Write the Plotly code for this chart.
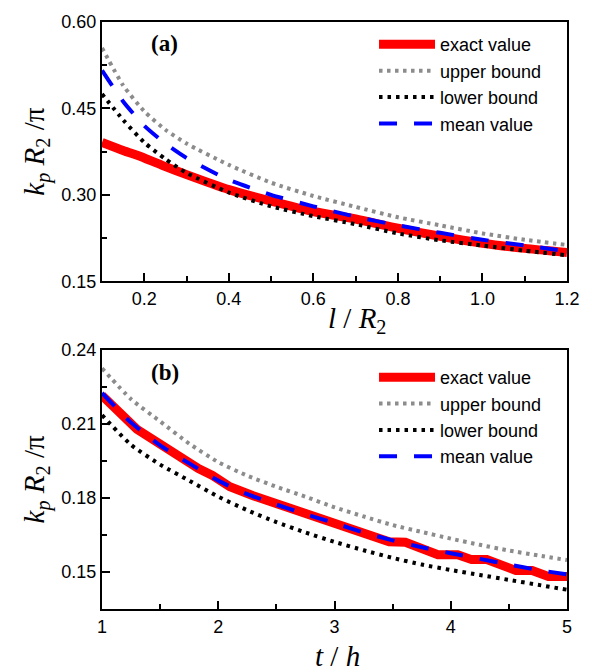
import plotly.graph_objects as go

# ---- panel (a): k_p R_2 / pi versus l / R_2 ----
l_over_R2 = [0.10, 0.15, 0.20, 0.25, 0.30, 0.40, 0.50, 0.60, 0.70, 0.80, 0.90, 1.00, 1.10, 1.20]
exact_a = [0.391, 0.377, 0.364, 0.349, 0.335, 0.309, 0.289, 0.271, 0.258, 0.242, 0.228, 0.216, 0.207, 0.200]
upper_a = [0.555, 0.490, 0.445, 0.413, 0.389, 0.352, 0.321, 0.298, 0.279, 0.261, 0.247, 0.233, 0.222, 0.213]
lower_a = [0.475, 0.430, 0.391, 0.362, 0.338, 0.304, 0.280, 0.263, 0.249, 0.233, 0.221, 0.212, 0.203, 0.195]
mean_a = [0.516, 0.462, 0.420, 0.389, 0.364, 0.326, 0.300, 0.280, 0.262, 0.247, 0.234, 0.222, 0.212, 0.202]

# ---- panel (b): k_p R_2 / pi versus t / h ----
t_exact = [1.00, 1.30, 1.83, 1.95, 2.10, 2.30, 3.47, 3.61, 3.89, 4.06, 4.18, 4.31, 4.56, 4.70, 4.84, 5.00]
exact_b = [0.2215, 0.2078, 0.1919, 0.1891, 0.1845, 0.1809, 0.1622, 0.1620, 0.1570, 0.1570,
           0.1550, 0.1550, 0.1506, 0.1506, 0.1482, 0.1482]
t_over_h = [1.00, 1.25, 1.50, 1.75, 2.00, 2.25, 2.50, 2.75, 3.00, 3.25, 3.50, 3.75, 4.00, 4.25, 4.50, 4.75, 5.00]
upper_b = [0.2325, 0.2200, 0.2110, 0.2020, 0.1945, 0.1890, 0.1845, 0.1805, 0.1762, 0.1725, 0.1690,
           0.1662, 0.1635, 0.1610, 0.1587, 0.1567, 0.1548]
lower_b = [0.2135, 0.2015, 0.1935, 0.1870, 0.1805, 0.1750, 0.1702, 0.1660, 0.1622, 0.1588, 0.1557,
           0.1530, 0.1508, 0.1488, 0.1468, 0.1448, 0.1428]
mean_b = [0.2225, 0.2105, 0.2013, 0.1940, 0.1870, 0.1815, 0.1773, 0.1734, 0.1698, 0.1660, 0.1628,
          0.1600, 0.1576, 0.1553, 0.1530, 0.1508, 0.1490]

RED = "#ff0000"
GRAY = "#8c8c8c"
BLACK = "#000000"
BLUE = "#0000ff"

styles = {
    "exact value": dict(color=RED, width=9, dash="solid"),
    "upper bound": dict(color=GRAY, width=4, dash="3.5px,4.5px"),
    "lower bound": dict(color=BLACK, width=4, dash="3.5px,5px"),
    "mean value": dict(color=BLUE, width=4, dash="18px,17px"),
}

fig = go.Figure()


def add_curve(x, y, name, xa, ya, legend, smooth):
    st = styles[name]
    fig.add_trace(go.Scatter(
        x=x, y=y, mode="lines", name=name,
        line=dict(color=st["color"], width=st["width"], dash=st["dash"],
                  shape="spline" if smooth else "linear", smoothing=0.6),
        xaxis=xa, yaxis=ya, legend=legend,
    ))


add_curve(l_over_R2, exact_a, "exact value", "x", "y", "legend", True)
add_curve(l_over_R2, upper_a, "upper bound", "x", "y", "legend", True)
add_curve(l_over_R2, lower_a, "lower bound", "x", "y", "legend", True)
add_curve(l_over_R2, mean_a, "mean value", "x", "y", "legend", True)

add_curve(t_exact, exact_b, "exact value", "x2", "y2", "legend2", False)
add_curve(t_over_h, upper_b, "upper bound", "x2", "y2", "legend2", True)
add_curve(t_over_h, lower_b, "lower bound", "x2", "y2", "legend2", True)
add_curve(t_over_h, mean_b, "mean value", "x2", "y2", "legend2", True)

SANS = "Liberation Sans, Arial"
SERIF = "Liberation Serif, Times New Roman"
TICK_FONT = dict(family=SANS, size=18, color="black")
TITLE_FONT = dict(family=SERIF, size=29, color="black")

MINOR = dict(ticks="inside", ticklen=5, tickcolor="black")

# boxed axes with inward major and minor ticks
axis_frame = dict(
    showline=True, linecolor="black", linewidth=2, mirror=True,
    ticks="inside", ticklen=8, tickwidth=2, tickcolor="black",
    showgrid=False, zeroline=False, tickfont=TICK_FONT,
)

y_title = "<i>k</i><sub><i>p</i></sub> <i>R</i><sub>2</sub> /π"

legend_common = dict(xanchor="left", yanchor="top", bgcolor="rgba(0,0,0,0)", borderwidth=0,
                     itemwidth=56, tracegroupgap=0,
                     font=dict(family=SANS, size=18, color="black"))

fig.update_layout(
    width=592, height=672,
    margin=dict(l=102, r=15, t=18, b=63),
    paper_bgcolor="white", plot_bgcolor="white",
    xaxis=dict(axis_frame, domain=[0, 1], anchor="y", range=[0.1, 1.2],
               tick0=0.2, dtick=0.2, tickformat=".1f",
               minor=dict(MINOR, tick0=0.1, dtick=0.1)),
    yaxis=dict(axis_frame, domain=[0.5584, 1.0], anchor="x", range=[0.15, 0.60],
               tick0=0.15, dtick=0.15, tickformat=".2f",
               minor=dict(MINOR, tick0=0.15, dtick=0.075),
               title=dict(text=y_title, font=TITLE_FONT, standoff=8)),
    xaxis2=dict(axis_frame, domain=[0, 1], anchor="y2", range=[1, 5],
                tick0=1, dtick=1,
                minor=dict(MINOR, tick0=1, dtick=0.5)),
    yaxis2=dict(axis_frame, domain=[0.0, 0.4416], anchor="x2", range=[0.135, 0.24],
                tick0=0.15, dtick=0.03, tickformat=".2f",
                minor=dict(MINOR, tick0=0.135, dtick=0.015),
                title=dict(text=y_title, font=TITLE_FONT, standoff=8)),
    legend=dict(legend_common, x=0.585, y=0.993),
    legend2=dict(legend_common, x=0.585, y=0.426),
    annotations=[
        # x-axis titles
        dict(text="<i>l</i> / <i>R</i><sub>2</sub>",
             xref="paper", yref="paper", x=(362 - 102) / 475, y=(609 - 318) / 591,
             xanchor="center", yanchor="middle", showarrow=False, font=TITLE_FONT),
        dict(text="<i>t</i> / <i>h</i>",
             xref="paper", yref="paper", x=(343 - 102) / 475, y=(609 - 656) / 591,
             xanchor="center", yanchor="middle", showarrow=False, font=TITLE_FONT),
        # panel labels
        dict(text="<b>(a)</b>", xref="paper", yref="paper", x=(166 - 102) / 475, y=(609 - 40) / 591,
             xanchor="center", yanchor="middle", showarrow=False,
             font=dict(family=SERIF, size=23, color="black")),
        dict(text="<b>(b)</b>", xref="paper", yref="paper", x=(166 - 102) / 475, y=(609 - 371) / 591,
             xanchor="center", yanchor="middle", showarrow=False,
             font=dict(family=SERIF, size=23, color="black")),
    ],
)

fig.write_html("out.html")
